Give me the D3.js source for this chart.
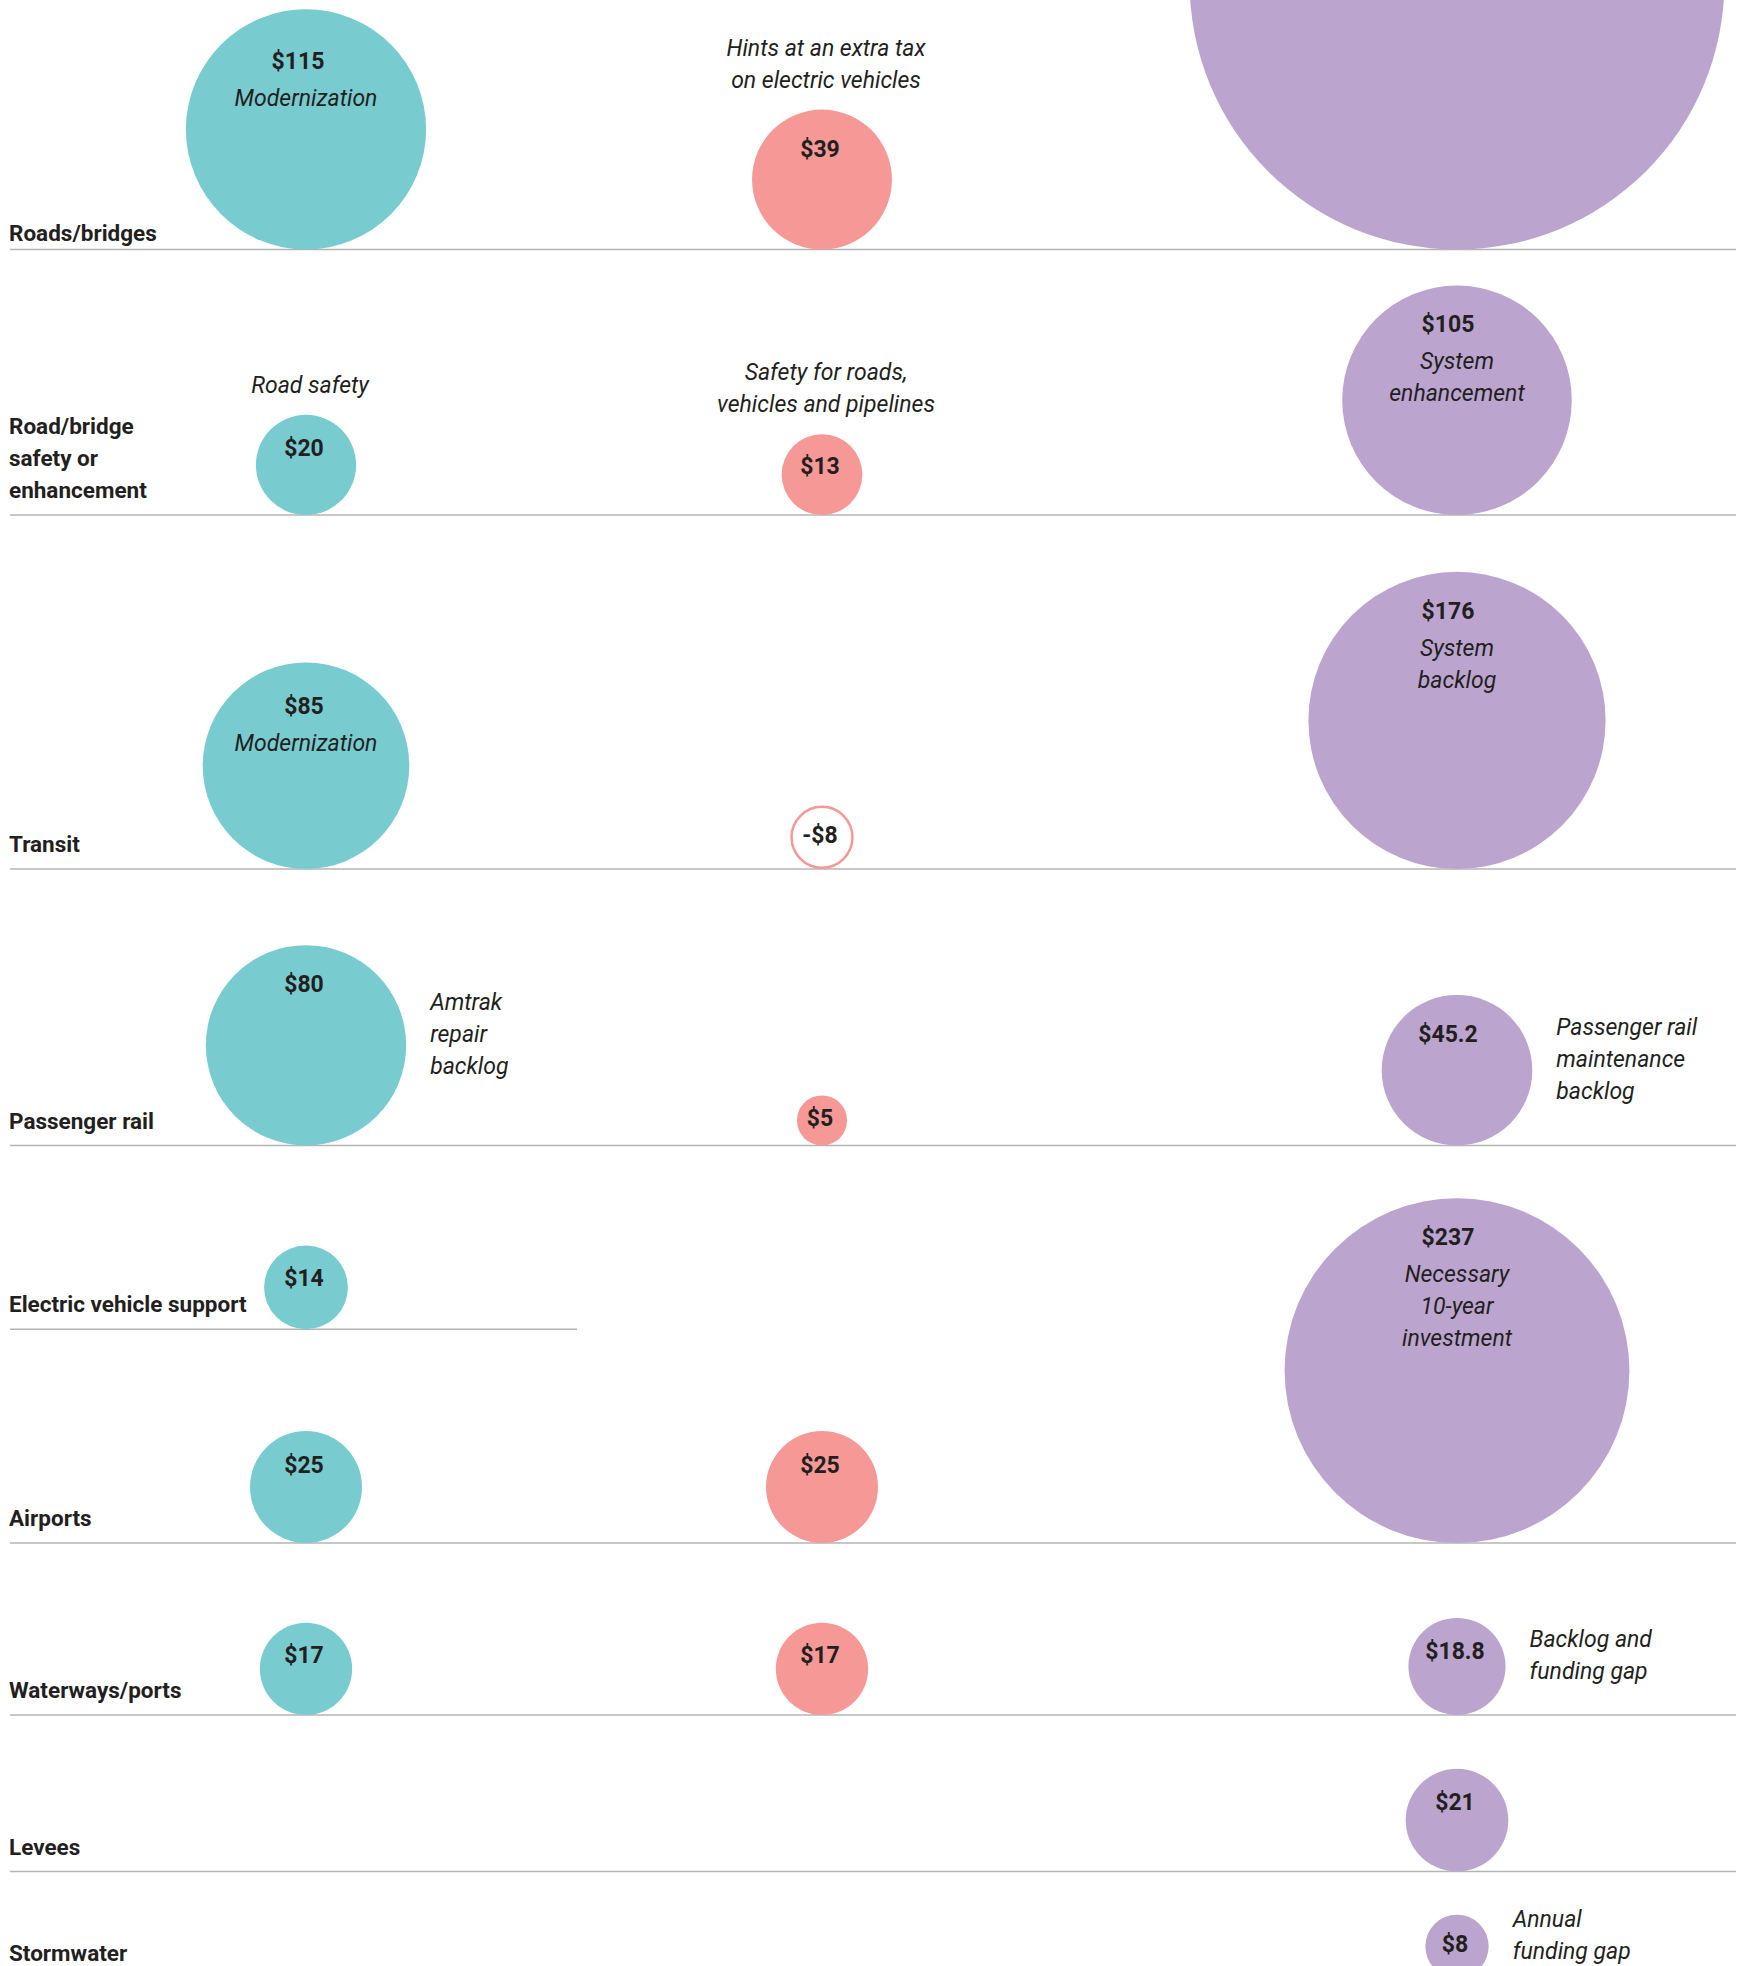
<!DOCTYPE html>
<html>
<head>
<meta charset="utf-8">
<script src="https://cdn.jsdelivr.net/npm/d3@7"></script>
<style>
  body { margin: 0; background: #fff; }
  svg { display: block; }
  .cat { font-family: Roboto, sans-serif; font-weight: 700; font-size: 22.5px; fill: #231f20; }
  .val { font-family: Roboto, sans-serif; font-weight: 700; font-size: 23px; fill: #231f20; }
  .note { font-family: Roboto, sans-serif; font-style: italic; font-size: 23px; fill: #231f20; }
</style>
</head>
<body>
<svg id="chart"></svg>
<script>
// Categories (rows), "|" marks a line break in the label
var categories = ["Roads/bridges", "Road/bridge|safety or|enhancement", "Transit", "Passenger rail",
    "Electric vehicle support", "Airports", "Waterways/ports", "Levees", "Stormwater"];

// Series, one value per category (billions of dollars), null = no bubble
var series = ["plan", "counter", "need"];
var seriesColours = ["#78ccd0", "#f59896", "#bba5cf"];
var planValues = [115, 20, 85, 80, 14, 25, 17, null, null];
var counterValues = [39, 13, -8, 5, null, 25, 17, null, null];
var needValues = [570, 105, 176, 45.2, null, 237, 18.8, 21, 8];

// Notes for each bubble and where they sit (in / above / right)
var planNotes = ["Modernization", "Road safety", "Modernization", "Amtrak|repair|backlog", "", "", "", "", ""];
var planNotePlace = ["in", "above", "in", "right", "", "", "", "", ""];
var counterNotes = ["Hints at an extra tax|on electric vehicles", "Safety for roads,|vehicles and pipelines", "", "", "", "", "", "", ""];
var counterNotePlace = ["above", "above", "", "", "", "", "", "", ""];
var needNotes = ["", "System|enhancement", "System|backlog", "Passenger rail|maintenance|backlog", "",
    "Necessary|10-year|investment", "Backlog and|funding gap", "", "Annual|funding gap"];
var needNotePlace = ["", "in", "in", "right", "", "in", "right", "", "right"];

// Layout
var width = 1741,
    height = 1966,
    lineHeight = 32;
var rowBottoms = [249.5, 515, 869, 1145.5, 1329.3, 1543, 1715, 1871.5, 1978];

var svg = d3.select("#chart")
    .attr("width", width)
    .attr("height", height);

var x = d3.scaleOrdinal().domain(series).range([306, 822, 1457]);
var radius = d3.scaleSqrt().domain([0, 100]).range([0, 112]);
var colour = d3.scaleOrdinal().domain(series).range(seriesColours);

var valuesBySeries = { plan: planValues, counter: counterValues, need: needValues };
var notesBySeries = { plan: planNotes, counter: counterNotes, need: needNotes };
var placeBySeries = { plan: planNotePlace, counter: counterNotePlace, need: needNotePlace };

// Flatten into bubble records
var bubbles = [];
series.forEach(function (s) {
    valuesBySeries[s].forEach(function (v, i) {
        if (v === null) return;
        var r = radius(Math.abs(v));
        bubbles.push({
            series: s,
            row: i,
            value: v,
            r: r,
            cx: x(s),
            cy: rowBottoms[i] - r,
            note: notesBySeries[s][i],
            place: placeBySeries[s][i]
        });
    });
});

// Row rules
svg.append("g").selectAll("line")
    .data(categories)
    .enter().append("line")
    .attr("x1", 10)
    .attr("x2", function (d, i) {
        // electric vehicle row stops short of the big bubble below it
        return i === 4 ? 577 : 1736;
    })
    .attr("y1", function (d, i) { return rowBottoms[i]; })
    .attr("y2", function (d, i) { return rowBottoms[i]; })
    .attr("stroke", "#b4b4b4")
    .attr("stroke-width", 1.5);

// Category labels, last line sits just above the rule
var cats = svg.append("g").selectAll("text")
    .data(categories)
    .enter().append("text")
    .attr("class", "cat")
    .attr("x", 9);

cats.each(function (d, i) {
    var lines = d.split("|");
    var t = d3.select(this);
    var gap = i === 0 ? 9 : 17;
    lines.forEach(function (line, j) {
        t.append("tspan")
            .attr("x", 9)
            .attr("y", rowBottoms[i] - gap - (lines.length - 1 - j) * lineHeight)
            .text(line);
    });
});

// Bubbles
var g = svg.append("g").selectAll("g")
    .data(bubbles)
    .enter().append("g");

g.append("circle")
    .attr("cx", function (d) { return d.cx; })
    .attr("cy", function (d) { return d.cy; })
    .attr("r", function (d) { return d.value < 0 ? d.r - 1.2 : d.r; })
    .attr("fill", function (d) { return d.value < 0 ? "#fff" : colour(d.series); })
    .attr("stroke", function (d) { return d.value < 0 ? colour(d.series) : "none"; })
    .attr("stroke-width", 2.5);

function valueBaseline(d) {
    var top = d.cy - d.r;
    // teal bubbles holding a note put the figure lower down
    if (d.series === "plan" && d.place === "in") return top + d.r * 0.5;
    if (d.r >= 60) return top + 47;
    return top + Math.min(d.r + 6, 36 + d.r * 0.1);
}

function valueX(d) {
    // the larger purple bubbles carry their figure a little left of centre
    if (d.series === "need" && d.r > 60) return d.cx - 9;
    if (d.series === "plan" && d.r > 110) return d.cx - 8;
    return d.cx - 2;
}

// the top purple bubble's figure lies above the picture, so it is left out
g.filter(function (d) { return valueBaseline(d) > 0; })
    .append("text")
    .attr("class", "val")
    .attr("x", valueX)
    .attr("y", valueBaseline)
    .style("text-anchor", "middle")
    .text(function (d) {
        return d.value < 0 ? "-$" + Math.abs(d.value) : "$" + d.value;
    });

// Notes
g.filter(function (d) { return d.note; }).each(function (d) {
    var lines = d.note.split("|");
    var t = d3.select(this).append("text").attr("class", "note");
    lines.forEach(function (line, j) {
        var tx, ty, anchor = "middle";
        if (d.place === "in") {
            tx = d.cx;
            ty = valueBaseline(d) + 37 + j * lineHeight;
        } else if (d.place === "above") {
            tx = d.cx + 4;
            ty = d.cy - d.r - 22 - (lines.length - 1 - j) * lineHeight;
        } else {
            tx = d.cx + d.r + 24;
            anchor = "start";
            ty = d.cy - 3 + (j - (lines.length - 1) / 2) * lineHeight;
        }
        t.append("tspan")
            .attr("x", tx)
            .attr("y", ty)
            .style("text-anchor", anchor)
            .text(line);
    });
});
</script>
</body>
</html>
